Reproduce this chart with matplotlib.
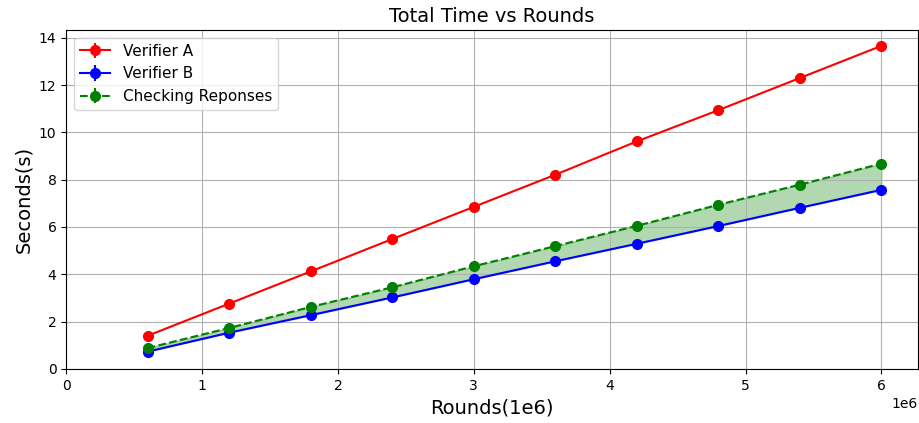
import matplotlib.pyplot as plt
import numpy as np

rounds = [0.6e6, 1.2e6, 1.8e6, 2.4e6, 3.0e6, 3.6e6, 4.2e6, 4.8e6, 5.4e6, 6.0e6]
verifier_a = [1.40, 2.76, 4.12, 5.49, 6.85, 8.21, 9.62, 10.94, 12.30, 13.66]
verifier_b = [0.73, 1.53, 2.27, 3.02, 3.79, 4.55, 5.29, 6.04, 6.81, 7.57]
checking = [0.88, 1.73, 2.62, 3.45, 4.34, 5.19, 6.05, 6.94, 7.79, 8.68]
err = [0.02] * len(rounds)

fig = plt.figure(figsize=(9.19, 4.23), dpi=100)
ax = fig.add_axes([0.072, 0.128, 0.927, 0.801])

ax.errorbar(rounds, verifier_a, yerr=err, fmt='o-', color='red', markersize=7, label='Verifier A')
ax.errorbar(rounds, verifier_b, yerr=err, fmt='o-', color='blue', markersize=7, label='Verifier B')
ax.errorbar(rounds, checking, yerr=err, fmt='o--', color='green', markersize=7, label='Checking Reponses')
ax.fill_between(rounds, verifier_b, checking, color='green', alpha=0.3)

ax.set_xlim(left=0)
ax.set_ylim(bottom=0)
ax.set_title('Total Time vs Rounds', fontsize=14)
ax.set_xlabel('Rounds(1e6)', fontsize=14)
ax.set_ylabel('Seconds(s)', fontsize=14)
ax.grid(True)
ax.legend(loc='upper left', fontsize=11)

fig.savefig('out.png')
